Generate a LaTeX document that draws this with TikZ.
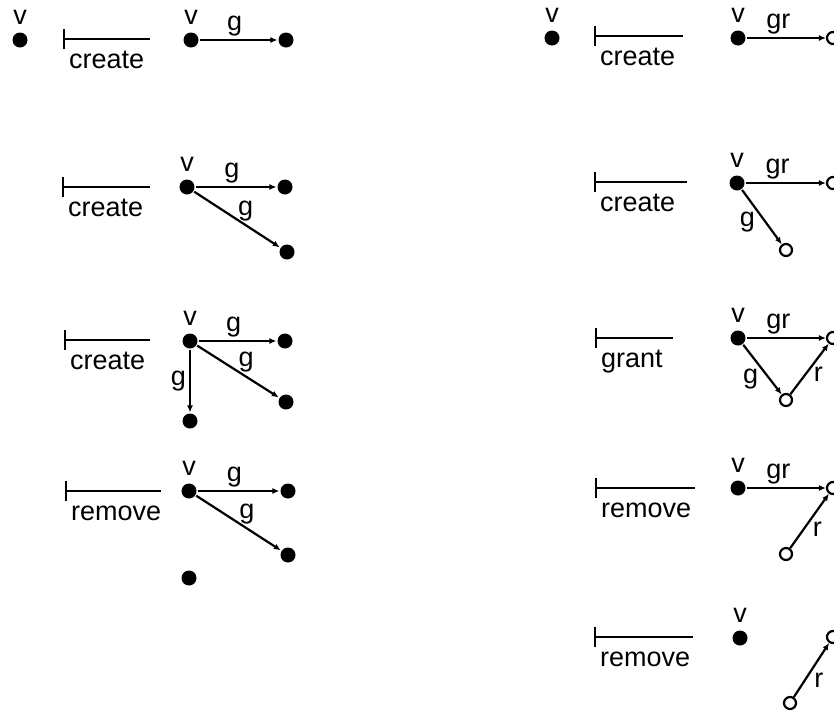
\documentclass[tikz,border=0pt]{standalone}
\usepackage{fontspec}
\setmainfont{Liberation Sans}
\usetikzlibrary{arrows.meta,positioning}
\newcommand{\subj}[2]{\node[subj] (#1) at (#2) {}}
\newcommand{\objc}[2]{\node[objc] (#1) at (#2) {}}
\newcommand{\rulestep}[4]{\draw (#2) ++(0,-10) -- ++(0,20);
	\draw (#2) -- ++(#3,0);
	\path (#2) ++(4,29) node[rulename] (#1) {#4}}

\begin{document}
\begin{tikzpicture}[x=1pt,y=-1pt,line width=2.2pt,font=\fontsize{27}{30}\selectfont,
	subj/.style={circle,fill,inner sep=0pt,minimum size=15pt},
	objc/.style={circle,draw,fill=white,inner sep=0pt,minimum size=12pt},
	rgt/.style={-{Latex[length=7pt,width=6pt]}},
	lab/.style={inner sep=3pt},
	rulename/.style={anchor=base west,inner sep=0pt}]
	\useasboundingbox (0,0) rectangle (834,710);
		\subj{a0}{20,40};
		\node[lab,above=3pt of a0] (a0v) {v};
	\rulestep{ra1}{64,39}{86}{create};
		\subj{a1}{191,40};
		\node[lab,above=3pt of a1] (a1v) {v};
		\subj{a1x}{286,40};
			\draw[rgt] (a1) -- node[lab,pos=0.45,above] (a1g) {g} (a1x);
	\rulestep{ra2}{63,187}{87}{create};
		\subj{a2}{187,187};
		\node[lab,above=3pt of a2] (a2v) {v};
		\subj{a2x}{285,187};
		\subj{a2y}{287,252};
			\draw[rgt] (a2) -- node[lab,pos=0.45,above] (a2g) {g} (a2x);
			\draw[rgt] (a2) -- node[lab,pos=0.6,above] (a2h) {g} (a2y);
	\rulestep{ra3}{65,340}{85}{create};
		\subj{a3}{190,341};
		\node[lab,above=3pt of a3] (a3v) {v};
		\subj{a3x}{285,341};
		\subj{a3y}{286,402};
		\subj{a3z}{190,421};
			\draw[rgt] (a3) -- node[lab,pos=0.45,above] (a3g) {g} (a3x);
			\draw[rgt] (a3) -- node[lab,pos=0.6,above] (a3h) {g} (a3y);
			\draw[rgt] (a3) -- node[lab,pos=0.5,left] (a3k) {g} (a3z);
	\rulestep{ra4}{66,491}{95}{remove};
		\subj{a4}{189,491};
		\node[lab,above=3pt of a4] (a4v) {v};
		\subj{a4x}{288,491};
		\subj{a4y}{288,555};
		\subj{a4z}{189,578};
			\draw[rgt] (a4) -- node[lab,pos=0.45,above] (a4g) {g} (a4x);
			\draw[rgt] (a4) -- node[lab,pos=0.6,above] (a4h) {g} (a4y);
		\subj{b0}{552,38};
		\node[lab,above=3pt of b0] (b0v) {v};
	\rulestep{rb1}{595,36}{88}{create};
		\subj{b1}{738,38};
		\node[lab,above=3pt of b1] (b1v) {v};
		\objc{b1x}{833,38};
			\draw[rgt] (b1) -- node[lab,pos=0.4,above] (b1g) {gr} (b1x);
	\rulestep{rb2}{595,182}{92}{create};
		\subj{b2}{737,183};
		\node[lab,above=3pt of b2] (b2v) {v};
		\objc{b2x}{833,183};
		\objc{b2y}{786,250};
			\draw[rgt] (b2) -- node[lab,pos=0.4,above] (b2g) {gr} (b2x);
			\draw[rgt] (b2) -- node[lab,pos=0.6,left=7pt] (b2h) {g} (b2y);
	\rulestep{rb3}{596,338}{77}{grant};
		\subj{b3}{738,338};
		\node[lab,above=3pt of b3] (b3v) {v};
		\objc{b3x}{833,338};
		\objc{b3y}{786,400};
			\draw[rgt] (b3) -- node[lab,pos=0.4,above] (b3g) {gr} (b3x);
			\draw[rgt] (b3) -- node[lab,pos=0.7,left=8pt] (b3h) {g} (b3y);
			\draw[rgt] (b3y) -- node[lab,pos=0.4,right=4pt] (b3r) {r} (b3x);
	\rulestep{rb4}{596,488}{99}{remove};
		\subj{b4}{738,488};
		\node[lab,above=3pt of b4] (b4v) {v};
		\objc{b4x}{833,488};
		\objc{b4y}{786,554};
			\draw[rgt] (b4) -- node[lab,pos=0.4,above] (b4g) {gr} (b4x);
			\draw[rgt] (b4y) -- node[lab,pos=0.35,right=5pt] (b4r) {r} (b4x);
	\rulestep{rb5}{595,637}{98}{remove};
		\subj{b5}{740,638};
		\node[lab,above=3pt of b5] (b5v) {v};
		\objc{b5x}{833,637};
		\objc{b5y}{790,703};
			\draw[rgt] (b5y) -- node[lab,pos=0.32,right=5pt] (b5r) {r} (b5x);
\end{tikzpicture}
\end{document}
